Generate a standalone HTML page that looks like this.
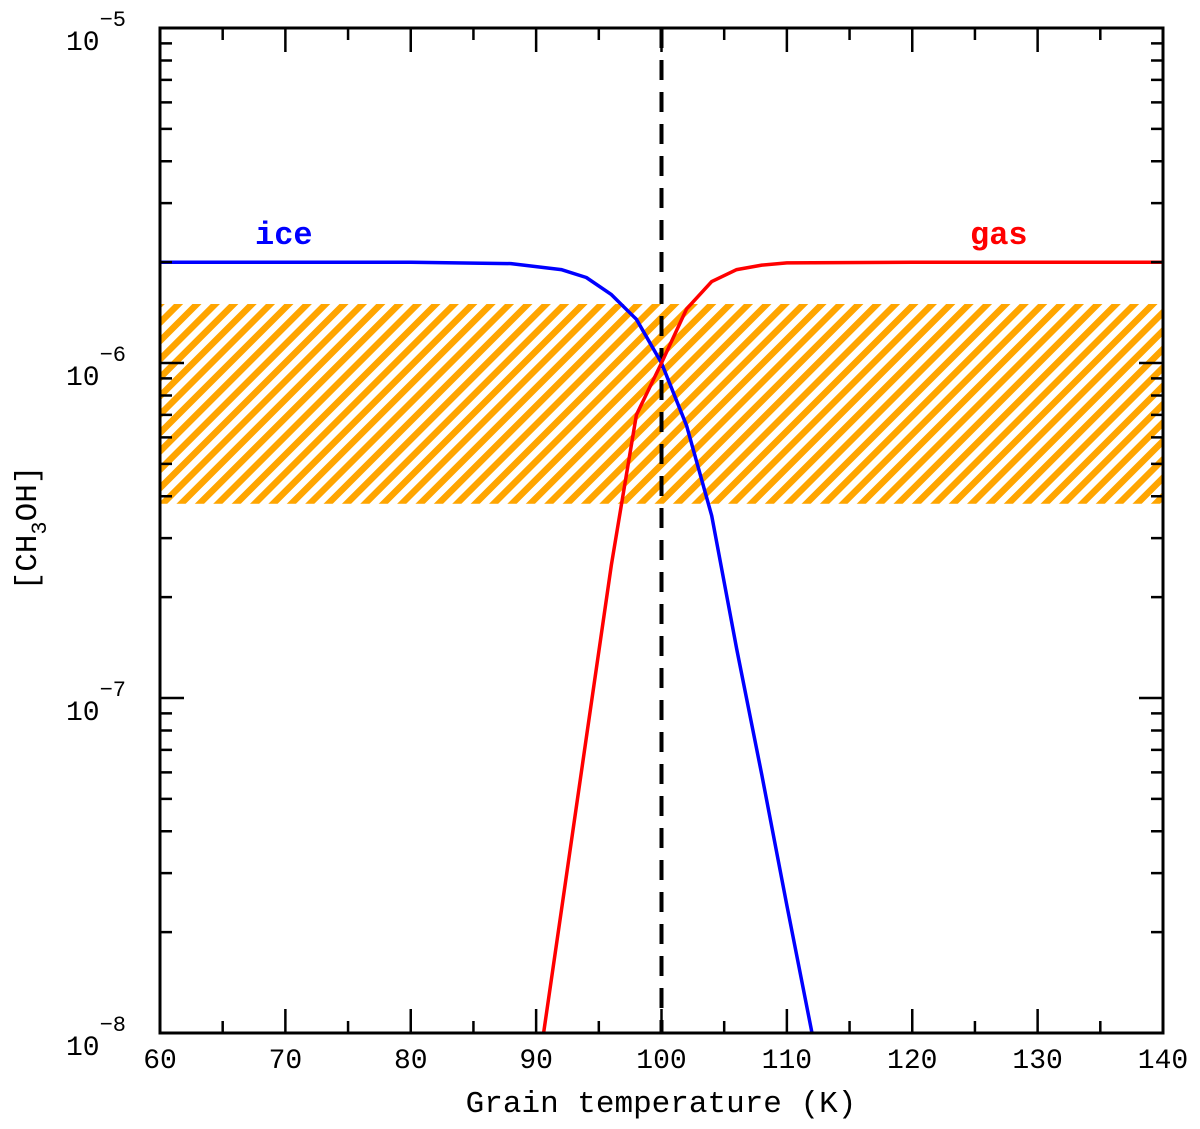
<!DOCTYPE html>
<html><head><meta charset="utf-8"><style>
body{margin:0;background:#fff}
svg text{font-family:"Liberation Mono",monospace;fill:#000}
</style></head><body>
<svg id="chart" width="1200" height="1124" xmlns="http://www.w3.org/2000/svg">
<defs>
<pattern id="hatch" patternUnits="userSpaceOnUse" width="13" height="13" patternTransform="rotate(-45)">
<rect x="0" y="0" width="13" height="6.5" fill="#FFA500"/>
</pattern>
</defs>
<g id="band"></g>
<g id="lines"></g>
<g id="axes"></g>
</svg>
<script>
const xTicks=[60,70,80,90,100,110,120,130,140];
const yDecades=[-8,-7,-6,-5];
const bandRange=[3.8e-7,1.5e-6];
const iceT=[60,70,80,88,92,94,96,98,100,102,104,106,108,110,112];
const iceV=[2e-6,2e-6,2e-6,1.98e-6,1.9e-6,1.8e-6,1.6e-6,1.35e-6,1.0e-6,6.5e-7,3.5e-7,1.4e-7,5.9e-8,2.4e-8,1e-8];
const gasT=[90.6,92,94,96,98,100,102,104,106,108,110,120,140];
const gasV=[1e-8,2.3e-8,7.6e-8,2.5e-7,7.0e-7,1.0e-6,1.45e-6,1.75e-6,1.9e-6,1.96e-6,1.99e-6,2e-6,2e-6];
const L=160,R=1163,T=28,B=1033;
const xs=t=>L+(t-60)/(140-60)*(R-L);
const ys=v=>T+(-5-Math.log10(v))/3*(B-T);
const NS="http://www.w3.org/2000/svg";
function mk(tag,attrs,parent){const e=document.createElementNS(NS,tag);for(const k in attrs)e.setAttribute(k,attrs[k]);parent.appendChild(e);return e;}
const band=document.getElementById('band'),lines=document.getElementById('lines'),axes=document.getElementById('axes');
const br=mk('rect',{x:L,y:ys(bandRange[1]),width:R-L,height:ys(bandRange[0])-ys(bandRange[1]),fill:'url(#hatch)'},band);


const vl=mk('line',{x1:xs(100),x2:xs(100),y1:T,y2:B,stroke:'#000','stroke-width':4,'stroke-dasharray':'20,12'},lines);


function series(ts,vs,color,name){
 const d=ts.map((t,i)=>(i?'L':'M')+xs(t).toFixed(1)+','+ys(vs[i]).toFixed(1)).join(' ');
 const p=mk('path',{d:d,fill:'none',stroke:color,'stroke-width':3.5,'stroke-linejoin':'round'},lines);
 
 
}
series(iceT,iceV,'#0000ff','ice-line');
series(gasT,gasV,'#ff0000','gas-line');
const li=mk('text',{x:255,y:244,'font-size':32,'font-weight':'bold',style:'fill:#0000ff'},lines);li.textContent='ice';


const lg=mk('text',{x:970,y:244,'font-size':32,'font-weight':'bold',style:'fill:#ff0000'},lines);lg.textContent='gas';


const fr=mk('rect',{x:L,y:T,width:R-L,height:B-T,fill:'none',stroke:'#000','stroke-width':3},axes);


let tp='';
for(let t=60;t<=140;t+=5){const x=xs(t),len=(t%10===0)?24:12;tp+=`M${x},${B}V${B-len}M${x},${T}V${T+len}`;}
for(let d=-8;d<-5;d++){for(let m=1;m<10;m++){const y=ys(m*Math.pow(10,d));const len=m===1?24:12;tp+=`M${L},${y}H${L+len}M${R},${y}H${R-len}`;}}
const tk=mk('path',{d:tp,stroke:'#000','stroke-width':2.5,fill:'none'},axes);


xTicks.forEach(t=>{const e=mk('text',{x:xs(t),y:1068,'font-size':28,'text-anchor':'middle'},axes);e.textContent=t;
 
 });
yDecades.forEach(d=>{const y=ys(Math.pow(10,d));
 const e=mk('text',{x:66,y:y+22,'font-size':28},axes);
 
 
 e.appendChild(document.createTextNode('10'));
 const s=mk('tspan',{dy:-24,'font-size':22},e);s.textContent='\u2212'+(-d);});
const xt=mk('text',{x:661,y:1112,'font-size':31,'text-anchor':'middle'},axes);xt.textContent='Grain temperature (K)';


const yt=mk('text',{x:0,y:0,'font-size':31,'text-anchor':'middle',transform:'translate(36,528) rotate(-90)'},axes);


yt.appendChild(document.createTextNode('[CH'));
const sub=mk('tspan',{dy:10,'font-size':22},yt);sub.textContent='3';
const rest=mk('tspan',{dy:-10},yt);rest.textContent='OH]';
</script>
</body></html>
